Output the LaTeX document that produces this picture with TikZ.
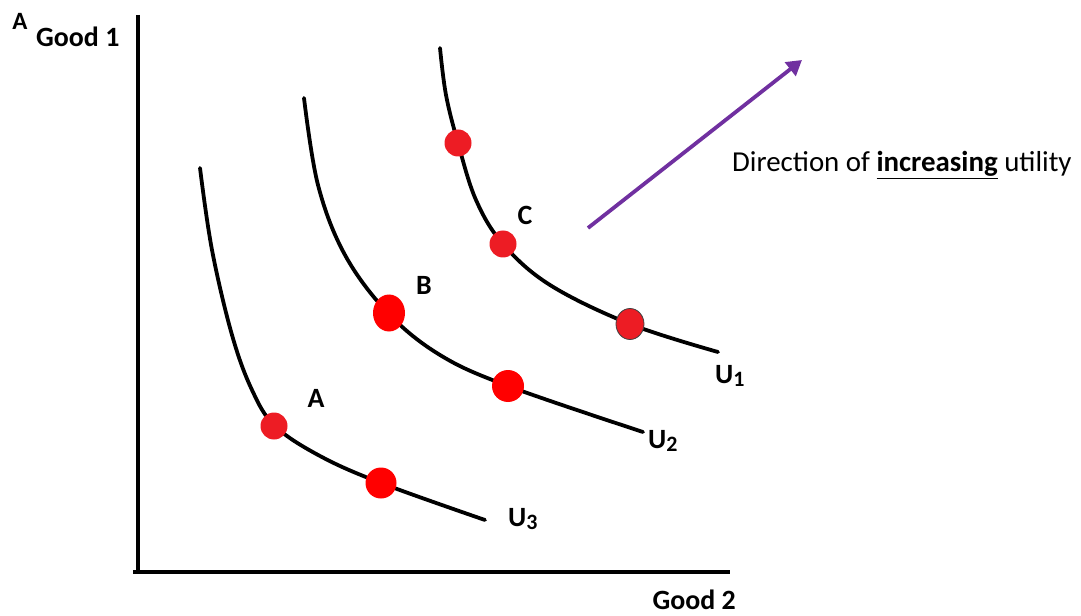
\documentclass[tikz,border=0pt]{standalone}
\usepackage{fontspec}
\setmainfont{Carlito}
\usetikzlibrary{arrows.meta,shapes.geometric}
\definecolor{dotred}{HTML}{ED1C24}
\definecolor{arrowpurple}{HTML}{7030A0}
\newcommand{\usub}[1]{\raisebox{-3bp}{\fontsize{22}{24}\selectfont #1}}
\tikzset{
  curve/.style={line width=3.8pt, line cap=round},
  axis/.style={line width=4.2pt},
  dot/.style={fill=dotred, draw=none},
  lbl/.style={font=\fontsize{28}{32}\selectfont\bfseries, inner sep=0pt},
}
\begin{document}
\begin{tikzpicture}[x=1bp,y=-1bp]
\useasboundingbox (0,0) rectangle (1081,616);
% axes
\coordinate (ytop) at (138,15);
\coordinate (origin) at (138,572);
\coordinate (xend) at (730,572);
\draw[axis] (ytop) -- (origin) -- (xend);
\draw[axis] (133,572) -- (origin);
% curves
\draw[curve] plot[smooth, tension=0.6] coordinates {(200,168) (212,250) (232,335) (252,390) (275,426) (320,456) (381,483) (485,520)};
\draw[curve] plot[smooth, tension=0.6] coordinates {(304,98) (318,185) (345,255) (388,313) (440,355) (508,386) (643,432)};
\draw[curve] plot[smooth, tension=0.6] coordinates {(440,48) (446,95) (458,143) (476,200) (503,244) (550,285) (630,324) (718,352)};
% dots
\node[dot, circle, minimum size=27bp, inner sep=0pt] (dA) at (274,426) {};
\node[dot, circle, minimum size=31bp, inner sep=0pt, fill=red] (dA2) at (381,483) {};
\node[dot, ellipse, minimum width=32bp, minimum height=37bp, inner sep=0pt, fill=red] (dB) at (389,313) {};
\node[dot, circle, minimum size=32bp, inner sep=0pt, fill=red] (dB2) at (508,386) {};
\node[dot, circle, minimum size=27bp, inner sep=0pt] (dC1) at (458,143) {};
\node[dot, circle, minimum size=27bp, inner sep=0pt] (dC) at (503,244) {};
\node[dot, ellipse, minimum width=28bp, minimum height=31bp, inner sep=0pt, draw=black!75, line width=0.8pt] (dC2) at (630,324) {};
% labels
\node[lbl] (la) at (316,398) {A};
\node[lbl] (lb) at (424,285) {B};
\node[lbl] (lc) at (525,215) {C};
\node[lbl, anchor=west] (u1) at (715,376) {U\usub{1}};
\node[lbl, anchor=west] (u2) at (648,441) {U\usub{2}};
\node[lbl, anchor=west] (u3) at (508,519) {U\usub{3}};
\node[lbl, anchor=west] (g1) at (36,37) {Good 1};
\node[lbl, anchor=center, font=\fontsize{25}{28}\selectfont\bfseries] (ga) at (20,21) {A};
\node[lbl, anchor=base east] (g2) at (736,609) {Good 2};
% arrow
\coordinate (as) at (588,228);
\coordinate (ae) at (802,60);
\draw[arrowpurple, line width=3.8pt, -{Triangle[length=15bp,width=17bp]}] (as) -- (ae);
\node[anchor=west, inner sep=0pt, font=\fontsize{29}{33}\selectfont] (dir) at (732,165) {Direction of \textbf{\underline{increasing}} utility};
\end{tikzpicture}
\end{document}
